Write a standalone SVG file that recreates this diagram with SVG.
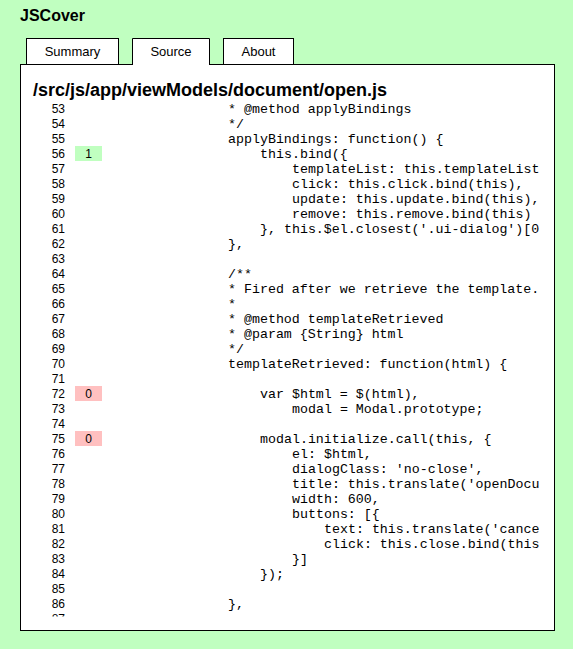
<svg xmlns="http://www.w3.org/2000/svg" width="573" height="649" viewBox="0 0 573 649">
<style>
.sans{font-family:"Liberation Sans",Arial,sans-serif;fill:#000}
.title{font-size:16px;font-weight:bold}
.tab{font-size:13px;text-anchor:middle}
.tabbox{fill:#fff;stroke:#000;stroke-width:1}
.head{font-size:18px;font-weight:bold}
.num{font-size:12px;text-anchor:end}
.cnt{font-size:12px;text-anchor:middle}
.code{font-family:"Liberation Mono","Courier New",monospace;font-size:13.3px;fill:#000;white-space:pre}
.hit{fill:#c0ffc0}
.miss{fill:#ffc0c0}
</style>
<defs>
<clipPath id="scroll"><rect x="21" y="101" width="518.5" height="515.5"/></clipPath>
</defs>
<rect x="0" y="0" width="573" height="649" fill="#c0ffc0"/>
<g id="header">
<text class="sans title" x="20" y="20.5">JSCover</text>
</g>
<g id="tabs">
<g id="tab-summary"><rect class="tabbox" x="26.5" y="38.5" width="92" height="26"/><text class="sans tab" x="72.5" y="55.5">Summary</text></g>
<g id="tab-about"><rect class="tabbox" x="223.5" y="38.5" width="70" height="26"/><text class="sans tab" x="258.5" y="55.5">About</text></g>
</g>
<g id="panel">
<rect x="20.5" y="64.5" width="534" height="566" fill="#fff" stroke="#000" stroke-width="1"/>
</g>
<g id="tab-source">
<rect x="132.5" y="38.5" width="77" height="27" fill="#fff" stroke="none"/>
<path d="M132.5 65 V38.5 H209.5 V65" fill="none" stroke="#000" stroke-width="1"/>
<text class="sans tab" x="171" y="55.5">Source</text>
</g>
<g id="file-heading">
<text class="sans head" x="33" y="95.5">/src/js/app/viewModels/document/open.js</text>
</g>
<g id="source-listing" clip-path="url(#scroll)">
<g id="coverage">
<rect class="hit" x="75" y="146" width="27" height="15"/>
<text class="sans cnt" x="88.5" y="157.5">1</text>
<rect class="miss" x="75" y="386" width="27" height="15"/>
<text class="sans cnt" x="88.5" y="397.5">0</text>
<rect class="miss" x="75" y="431" width="27" height="15"/>
<text class="sans cnt" x="88.5" y="442.5">0</text>
</g>
<g id="line-numbers" class="sans num">
<text x="65" y="112.5">53</text>
<text x="65" y="127.5">54</text>
<text x="65" y="142.5">55</text>
<text x="65" y="157.5">56</text>
<text x="65" y="172.5">57</text>
<text x="65" y="187.5">58</text>
<text x="65" y="202.5">59</text>
<text x="65" y="217.5">60</text>
<text x="65" y="232.5">61</text>
<text x="65" y="247.5">62</text>
<text x="65" y="262.5">63</text>
<text x="65" y="277.5">64</text>
<text x="65" y="292.5">65</text>
<text x="65" y="307.5">66</text>
<text x="65" y="322.5">67</text>
<text x="65" y="337.5">68</text>
<text x="65" y="352.5">69</text>
<text x="65" y="367.5">70</text>
<text x="65" y="382.5">71</text>
<text x="65" y="397.5">72</text>
<text x="65" y="412.5">73</text>
<text x="65" y="427.5">74</text>
<text x="65" y="442.5">75</text>
<text x="65" y="457.5">76</text>
<text x="65" y="472.5">77</text>
<text x="65" y="487.5">78</text>
<text x="65" y="502.5">79</text>
<text x="65" y="517.5">80</text>
<text x="65" y="532.5">81</text>
<text x="65" y="547.5">82</text>
<text x="65" y="562.5">83</text>
<text x="65" y="577.5">84</text>
<text x="65" y="592.5">85</text>
<text x="65" y="607.5">86</text>
<text x="65" y="622.5">87</text>
</g>
<g id="code" class="code">
<text x="228" y="112.5">* @method applyBindings</text>
<text x="228" y="127.5">*/</text>
<text x="228" y="142.5">applyBindings: function() {</text>
<text x="260" y="157.5">this.bind({</text>
<text x="292" y="172.5">templateList: this.templateList</text>
<text x="292" y="187.5">click: this.click.bind(this),</text>
<text x="292" y="202.5">update: this.update.bind(this),</text>
<text x="292" y="217.5">remove: this.remove.bind(this)</text>
<text x="260" y="232.5">}, this.$el.closest('.ui-dialog')[0</text>
<text x="228" y="247.5">},</text>
<text x="228" y="277.5">/**</text>
<text x="228" y="292.5">* Fired after we retrieve the template.</text>
<text x="228" y="307.5">*</text>
<text x="228" y="322.5">* @method templateRetrieved</text>
<text x="228" y="337.5">* @param {String} html</text>
<text x="228" y="352.5">*/</text>
<text x="228" y="367.5">templateRetrieved: function(html) {</text>
<text x="260" y="397.5">var $html = $(html),</text>
<text x="292" y="412.5">modal = Modal.prototype;</text>
<text x="260" y="442.5">modal.initialize.call(this, {</text>
<text x="292" y="457.5">el: $html,</text>
<text x="292" y="472.5">dialogClass: 'no-close',</text>
<text x="292" y="487.5">title: this.translate('openDocu</text>
<text x="292" y="502.5">width: 600,</text>
<text x="292" y="517.5">buttons: [{</text>
<text x="324" y="532.5">text: this.translate('cance</text>
<text x="324" y="547.5">click: this.close.bind(this</text>
<text x="292" y="562.5">}]</text>
<text x="260" y="577.5">});</text>
<text x="228" y="607.5">},</text>
</g>
</g>
</svg>
